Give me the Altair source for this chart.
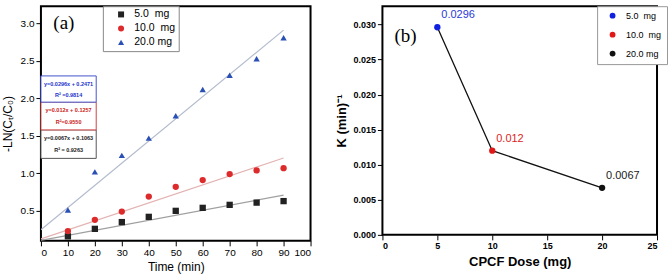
import altair as alt
import pandas as pd

# ---------------- data (a) ----------------
times = [10, 20, 30, 40, 50, 60, 70, 80, 90]
dose_labels = ["5.0\u00a0\u00a0mg", "10.0\u00a0\u00a0mg", "20.0 mg"]
y_5mg = [0.16, 0.26, 0.35, 0.42, 0.50, 0.54, 0.58, 0.61, 0.63]
y_10mg = [0.23, 0.38, 0.49, 0.69, 0.82, 0.91, 0.99, 1.04, 1.07]
y_20mg = [0.51, 1.02, 1.24, 1.47, 1.77, 2.12, 2.31, 2.53, 2.81]
fit_slopes = [0.0067, 0.012, 0.0296]
fit_intercepts = [0.1063, 0.1257, 0.2471]
fit_x = [0, 90]
eq_texts = ["y=0.0067x + 0.1063", "y=0.012x + 0.1257", "y=0.0296x + 0.2471"]
r2_texts = ["R\u00b2 = 0.9263", "R\u00b2=0.9550", "R\u00b2 =0.9814"]

# ---------------- data (b) ----------------
doses = [5, 10, 20]
k_values = [0.0296, 0.012, 0.0067]
k_labels = ["0.0296", "0.012", "0.0067"]
k_ticks = [0, 0.005, 0.01, 0.015, 0.02, 0.025, 0.03]

# ---------------- tables ----------------
rows = []
for lab, ys in zip(dose_labels, [y_5mg, y_10mg, y_20mg]):
    for t, v in zip(times, ys):
        rows.append({"t": t, "v": v, "dose": lab})
df_a = pd.DataFrame(rows)

fit_rows = []
for eq, m, b in zip(eq_texts, fit_slopes, fit_intercepts):
    for x in fit_x:
        fit_rows.append({"t": x, "v": m * x + b, "eq": eq})
df_fit = pd.DataFrame(fit_rows)

# equation boxes (annotation placement in data units), ordered 5, 10, 20 mg
box_top = [1.58, 1.95, 2.30]
box_bot = [1.20, 1.58, 1.95]
df_box = pd.DataFrame({
    "x": [0] * 3, "x2": [20.5] * 3, "y": box_top, "y2": box_bot,
    "eq": eq_texts, "r2": r2_texts,
})
df_box["ye"] = [t - (t - b) * 0.3 for t, b in zip(box_top, box_bot)]
df_box["yr"] = [t - (t - b) * 0.72 for t, b in zip(box_top, box_bot)]
df_box["xc"] = 10.25

df_b = pd.DataFrame({"d": doses, "k": k_values, "lab": k_labels, "dose": dose_labels})

FONT = "Liberation Sans"
col_a = alt.Scale(domain=dose_labels, range=["#222222", "#dd2a2a", "#2a4fb5"])
shp_a = alt.Scale(domain=dose_labels, range=["square", "circle", "triangle-up"])
fitcol = alt.Scale(domain=eq_texts, range=["#a0a0a0", "#e3b3b3", "#b3bccd"])
boxcol = alt.Scale(domain=eq_texts, range=["#555555", "#cc4444", "#4455cc"])
eqcol = alt.Scale(domain=eq_texts, range=["#222222", "#cc2222", "#2233cc"])

xa = alt.X("t:Q", scale=alt.Scale(domain=[0, 100], nice=False),
           axis=alt.Axis(values=list(range(0, 101, 10)), tickCount=11, title="Time (min)", grid=False,
                         labelFont=FONT, labelFontSize=10, titleFont=FONT, titleFontSize=12,
                         titleFontWeight="normal", tickSize=5, labelPadding=2, titlePadding=4,
                         labelOverlap=False, domain=False, tickColor="black",
                         labelColor="black", titleColor="black"))
ya = alt.Y("v:Q", scale=alt.Scale(domain=[0.1, 3.23], nice=False, zero=False),
           axis=alt.Axis(values=[0.5, 1.0, 1.5, 2.0, 2.5, 3.0], tickCount=6, format=".1f",
                         title="-LN(C\u209c/C\u2080)", grid=False,
                         labelFont=FONT, labelFontSize=10, titleFont=FONT, titleFontSize=12,
                         titleFontWeight="normal", tickSize=5, labelPadding=2, titlePadding=6,
                         labelOverlap=False, domain=False, tickColor="black",
                         labelColor="black", titleColor="black"))

lines_a = alt.Chart(df_fit).mark_line(strokeWidth=1.2, clip=True).encode(
    x=xa, y=ya, stroke=alt.Stroke("eq:N", scale=fitcol, legend=None))

leg_a = dict(title=None, orient="none", legendX=62, legendY=0, labelFont=FONT, labelFontSize=10.5,
             labelColor="black", symbolSize=36, padding=3, rowPadding=3, strokeColor="#888888",
             fillColor="white", symbolOffset=10, labelOffset=8)
pts_a = alt.Chart(df_a).mark_point(filled=True, size=40, opacity=1).encode(
    x=xa, y=ya,
    color=alt.Color("dose:N", scale=col_a, legend=alt.Legend(**leg_a)),
    shape=alt.Shape("dose:N", scale=shp_a, legend=alt.Legend(**leg_a)),
)

boxes = alt.Chart(df_box).mark_rect(fill="white", strokeWidth=1).encode(
    x="x:Q", x2="x2:Q", y="y:Q", y2="y2:Q",
    stroke=alt.Stroke("eq:N", scale=boxcol, legend=None))
eq_t = alt.Chart(df_box).mark_text(font=FONT, fontSize=5.5, fontWeight="bold").encode(
    x="xc:Q", y="ye:Q", text="eq:N", fill=alt.Fill("eq:N", scale=eqcol, legend=None))
r2_t = alt.Chart(df_box).mark_text(font=FONT, fontSize=5.5, fontWeight="bold").encode(
    x="xc:Q", y="yr:Q", text="r2:N", fill=alt.Fill("eq:N", scale=eqcol, legend=None))

tag_a = alt.Chart(pd.DataFrame({"x": [8.5], "y": [3.0], "s": ["(a)"]})).mark_text(
    font="Liberation Serif", fontSize=19, color="black").encode(x="x:Q", y="y:Q", text="s:N")

left = alt.layer(lines_a, boxes, eq_t, r2_t, pts_a, tag_a).resolve_scale(
    stroke="independent").properties(width=270, height=235)

# ---------------- (b) ----------------
col_b = alt.Scale(domain=dose_labels, range=["#1020e0", "#e01818", "#111111"])
txtcol_b = alt.Scale(domain=k_labels, range=["#2a3ad8", "#dd2222", "#222222"])
xb = alt.X("d:Q", scale=alt.Scale(domain=[0, 25], nice=False),
           axis=alt.Axis(values=[0, 5, 10, 15, 20, 25], tickCount=6, title="CPCF Dose (mg)", grid=False,
                         labelFont=FONT, labelFontSize=9, labelFontWeight="bold", titleFont=FONT,
                         titleFontSize=13, titleFontWeight="bold", tickSize=5, labelPadding=2,
                         titlePadding=5, labelOverlap=False, domain=False, tickColor="black",
                         labelColor="black", titleColor="black"))
yb = alt.Y("k:Q", scale=alt.Scale(domain=[0, 0.0326], nice=False),
           axis=alt.Axis(values=k_ticks, tickCount=len(k_ticks), format=".3f",
                         title="K (min)\u207b\u00b9", grid=False,
                         labelFont=FONT, labelFontSize=9, labelFontWeight="bold", titleFont=FONT,
                         titleFontSize=13, titleFontWeight="bold", tickSize=5, labelPadding=2,
                         titlePadding=4, labelOverlap=False, domain=False, tickColor="black",
                         labelColor="black", titleColor="black"))

line_b = alt.Chart(df_b).mark_line(color="#111111", strokeWidth=1.3).encode(x=xb, y=yb)
pts_b = alt.Chart(df_b).mark_point(filled=True, size=40, opacity=1, shape="circle").encode(
    x=xb, y=yb,
    color=alt.Color("dose:N", scale=col_b, legend=alt.Legend(
        title=None, orient="none", legendX=215, legendY=0, labelFont=FONT, labelFontSize=9,
        labelColor="black", symbolSize=34, padding=5, rowPadding=9, strokeColor="#999999",
        fillColor="white", symbolOffset=6, labelOffset=9)))
txt_b = alt.Chart(df_b).mark_text(font=FONT, align="left", dx=4, dy=-12).encode(
    x=xb, y=yb, text="lab:N",
    fill=alt.Fill("lab:N", scale=txtcol_b, legend=None),
    size=alt.Size("lab:N", scale=alt.Scale(domain=k_labels, range=[11, 11, 13]), legend=None))
tag_b = alt.Chart(pd.DataFrame({"d": [2.1], "k": [0.0284], "s": ["(b)"]})).mark_text(
    font="Liberation Serif", fontSize=19, color="black").encode(x="d:Q", y="k:Q", text="s:N")

right = alt.layer(line_b, pts_b, txt_b, tag_b).properties(width=275, height=229)

chart = alt.hconcat(left, right, spacing=22).resolve_scale(
    color="independent", shape="independent", size="independent", stroke="independent",
    fill="independent"
).configure(padding={"left": 0, "top": 4, "right": 0, "bottom": 0}, background="white"
).configure_view(stroke="black", strokeWidth=2)

chart.save("out.html", embed_options={"renderer": "svg", "actions": False})
